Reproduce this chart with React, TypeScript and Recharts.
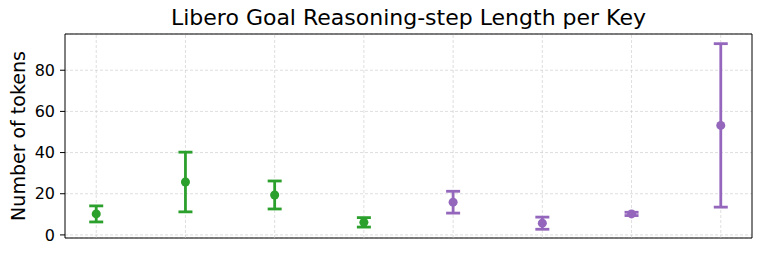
import { CartesianGrid, ErrorBar, ReferenceArea, ReferenceLine, Scatter, ScatterChart, XAxis, YAxis, ZAxis } from "recharts"

const keyIndex = [0, 1, 2, 3, 4, 5, 6, 7]
const meanTokens = [10.2, 25.7, 19.4, 6.1, 15.9, 5.7, 10.2, 53.2]
const stdTokens = [3.9, 14.5, 6.8, 2.3, 5.3, 2.95, 0.8, 39.7]
const groupColor = ["#2ca02c", "#2ca02c", "#2ca02c", "#2ca02c", "#9467bd", "#9467bd", "#9467bd", "#9467bd"]
const yTicks = [0, 20, 40, 60, 80]

const points = keyIndex.map((k, i) => ({ x: k, y: meanTokens[i], err: stdTokens[i], color: groupColor[i] }))
const greenPoints = points.filter((p) => p.color === "#2ca02c")
const purplePoints = points.filter((p) => p.color === "#9467bd")

const X_DOMAIN: [number, number] = [-0.35, 7.35]
const Y_DOMAIN: [number, number] = [-1.5, 97.6]
const font = "DejaVu Sans, sans-serif"
const gridColor = "#c8c8c8"

export default function App() {
  return (
    <div style={{ position: "absolute", left: 0, top: 0, fontFamily: font }}>
      <div
        style={{
          position: "absolute",
          left: 65,
          width: 687,
          top: 5,
          textAlign: "center",
          fontSize: 22,
          color: "#000",
          lineHeight: "26px",
        }}
      >
        Libero Goal Reasoning-step Length per Key
      </div>
      <ScatterChart width={763} height={256} margin={{ top: 34, right: 11, bottom: 18, left: 0 }}>
        <CartesianGrid stroke={gridColor} strokeDasharray="3 2" strokeWidth={0.6} vertical={false} />
        <XAxis
          type="number"
          dataKey="x"
          domain={X_DOMAIN}
          ticks={keyIndex}
          allowDataOverflow
          tick={false}
          tickLine={false}
          axisLine={false}
          height={0}
        />
        <YAxis
          type="number"
          dataKey="y"
          domain={Y_DOMAIN}
          ticks={yTicks}
          allowDataOverflow
          width={65}
          tick={{ fill: "#000", fontSize: 16, fontFamily: font }}
          tickLine={{ stroke: "#000" }}
          tickSize={5}
          tickMargin={5}
          axisLine={false}
          label={{
            value: "Number of tokens",
            angle: -90,
            position: "insideLeft",
            offset: 18,
            style: { textAnchor: "middle", fontSize: 19, fill: "#000", fontFamily: font },
          }}
        />
        <ZAxis range={[85, 85]} />
        {keyIndex.map((k) => (
          <ReferenceLine key={k} x={k} stroke={gridColor} strokeDasharray="3 2" strokeWidth={0.6} />
        ))}
        <ReferenceArea
          x1={X_DOMAIN[0]}
          x2={X_DOMAIN[1]}
          y1={Y_DOMAIN[0]}
          y2={Y_DOMAIN[1]}
          fill="none"
          stroke="#000"
          strokeWidth={1}
          fillOpacity={0}
          ifOverflow="visible"
        />
        <Scatter data={greenPoints} fill="#2ca02c" isAnimationActive={false}>
          <ErrorBar dataKey="err" direction="y" width={7} stroke="#2ca02c" strokeWidth={2.8} isAnimationActive={false} />
        </Scatter>
        <Scatter data={purplePoints} fill="#9467bd" isAnimationActive={false}>
          <ErrorBar dataKey="err" direction="y" width={7} stroke="#9467bd" strokeWidth={2.8} isAnimationActive={false} />
        </Scatter>
      </ScatterChart>
    </div>
  )
}
